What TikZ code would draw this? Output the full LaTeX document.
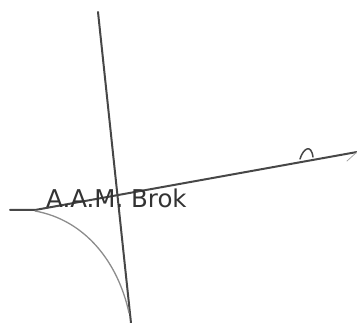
\documentclass[tikz,border=0pt]{standalone}
\usepackage{fontspec}
\newfontfamily\labelfont{DejaVu Sans}
\begin{document}
\begin{tikzpicture}[x=1pt,y=-1pt,
  pen/.style={draw=black!72,line width=2pt,line cap=round,line join=round},
  thinpen/.style={draw=black!45,line width=1.3pt,line cap=round},
  lbl/.style={font=\labelfont\fontsize{24.5}{24.5}\selectfont,text=black!80,inner sep=0pt,anchor=base west}]
\useasboundingbox (0,0) rectangle (357,323);
% vertical stroke
\coordinate (vt) at (98,12);
\coordinate (vb) at (131,323);
\draw[pen] (vt) -- (vb);
% long rising stroke
\coordinate (hl) at (10,210);
\coordinate (hk) at (35,210);
\coordinate (hr) at (357,152);
\draw[pen] (hl) -- (hk) -- (hr);
% small hook on the stroke
\coordinate (h1) at (300,159);
\coordinate (h2) at (313,157);
\draw[pen,line width=1.5pt] (h1) .. controls (303,149) and (311,143) .. (h2);
% faint barb at the right end
\coordinate (b1) at (347,161);
\draw[thinpen,line width=0.8pt,draw=black!35] (b1) -- (hr);
% gray curve
\coordinate (c1) at (35,211);
\coordinate (c2) at (129,313);
\draw[thinpen] (c1) .. controls (85,220) and (118,262) .. (c2);
% label
\node[lbl] (name) at (46,208) {A.A.M. Brok};
\end{tikzpicture}
\end{document}
